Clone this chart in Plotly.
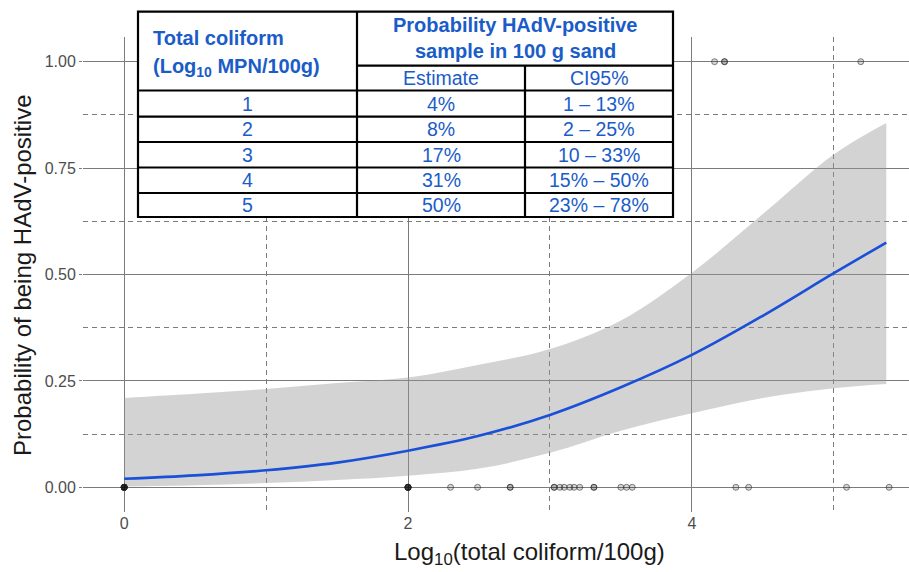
import plotly.graph_objects as go

# ---------------- data ----------------
fit_x = [0, 0.5, 1, 1.5, 2, 2.5, 3, 3.5, 4, 4.5, 5, 5.37]
fit_p = [0.020, 0.028, 0.040, 0.058, 0.086, 0.121, 0.170, 0.235, 0.311, 0.403, 0.503, 0.575]
ci_upper = [0.210, 0.220, 0.231, 0.245, 0.258, 0.288, 0.325, 0.392, 0.504, 0.642, 0.782, 0.856]
ci_lower = [0.002, 0.005, 0.010, 0.017, 0.027, 0.044, 0.081, 0.133, 0.174, 0.210, 0.233, 0.243]

# observed samples (x = log10 total coliform, y = 0/1 HAdV)
obs_neg_x = [0, 0, 0, 0, 0, 0, 0, 0, 0, 0, 2, 2, 2, 2, 2, 2, 2, 2,
             2.30, 2.49, 2.72, 2.72, 3.03, 3.03, 3.07, 3.10, 3.14, 3.17, 3.21,
             3.31, 3.31, 3.50, 3.54, 3.58, 4.31, 4.40, 5.09, 5.39]
obs_pos_x = [4.16, 4.23, 4.23, 5.19]

# table content
tbl_log = ["1", "2", "3", "4", "5"]
tbl_est = ["4%", "8%", "17%", "31%", "50%"]
tbl_ci = ["1 \u2013 13%", "2 \u2013 25%", "10 \u2013 33%", "15% \u2013 50%", "23% \u2013 78%"]

x_ticks = [0, 2, 4]
y_ticks = [0, 0.25, 0.5, 0.75, 1.0]

# ---------------- layout geometry ----------------
L, R, T, B = 83, 909, 37, 512
W, H = 909, 572
def PX(x):
    return (x - L) / (R - L)
def PY(y):
    return (B - y) / (B - T)

FONT = "Liberation Sans, Arial, sans-serif"
BLUE_TXT = "#1a5cc8"
GRID = "#7b7b7b"
DASH = "5px,4px"

fig = go.Figure()

# confidence band
fig.add_trace(go.Scatter(x=fit_x, y=ci_lower, mode="lines", line=dict(width=0, shape="spline"),
                         showlegend=False, hoverinfo="skip"))
fig.add_trace(go.Scatter(x=fit_x, y=ci_upper, mode="lines", line=dict(width=0, shape="spline"),
                         fill="tonexty", fillcolor="rgba(150,150,150,0.42)",
                         showlegend=False, hoverinfo="skip"))
# fitted line
fig.add_trace(go.Scatter(x=fit_x, y=fit_p, mode="lines",
                         line=dict(color="#1a4fd8", width=2.6, shape="spline"),
                         showlegend=False))
# observations
marker = dict(size=6, color="rgba(0,0,0,0.16)", line=dict(color="rgba(40,40,40,0.55)", width=1))
fig.add_trace(go.Scatter(x=obs_neg_x, y=[0] * len(obs_neg_x), mode="markers", marker=marker,
                         showlegend=False))
fig.add_trace(go.Scatter(x=obs_pos_x, y=[1] * len(obs_pos_x), mode="markers", marker=marker,
                         showlegend=False))

fig.update_xaxes(range=[-0.29, 5.53], tickvals=x_ticks, ticktext=[str(v) for v in x_ticks],
                 showgrid=True, gridcolor=GRID, gridwidth=1.4, zeroline=False,
                 showline=False, ticks="",
                 tickfont=dict(family=FONT, size=16, color="#4d4d4d"),
                 minor=dict(dtick=1, tick0=0, showgrid=True, gridcolor=GRID, gridwidth=1.4,
                            griddash=DASH))
fig.update_yaxes(range=[-0.058, 1.058], tickvals=y_ticks, ticktext=["%.2f" % v for v in y_ticks],
                 showgrid=True, gridcolor=GRID, gridwidth=1.4, zeroline=False,
                 showline=False, ticks="outside", ticklen=3, tickcolor=GRID, tickwidth=1.4,
                 tickfont=dict(family=FONT, size=16, color="#4d4d4d"),
                 minor=dict(dtick=0.125, tick0=0, showgrid=True, gridcolor=GRID, gridwidth=1.4,
                            griddash=DASH))

annotations = []
# axis titles
annotations.append(dict(text="Log<sub>10</sub>(total coliform/100g)", x=PX(529), y=PY(553),
                        xref="paper", yref="paper", showarrow=False, xanchor="center", yanchor="middle",
                        font=dict(family=FONT, size=24, color="#1a1a1a")))
annotations.append(dict(text="Probability of being HAdV-positive", x=PX(22), y=PY(275),
                        xref="paper", yref="paper", showarrow=False, textangle=-90,
                        xanchor="center", yanchor="middle",
                        font=dict(family=FONT, size=24, color="#1a1a1a")))

# ---------------- table ----------------
tl, tr, tt, tb = 138, 673, 11.7, 217
c1, c2 = 357, 525
h_sub, h_head = 65.7, 90.5
row_edges = [90.5, 116.7, 142, 167.5, 193, 217]
shapes = []
shapes.append(dict(type="rect", xref="paper", yref="paper", x0=PX(tl), x1=PX(tr), y0=PY(tb), y1=PY(tt),
                   fillcolor="white", line=dict(color="black", width=2.2), layer="above"))
def hline(y, x0, x1):
    shapes.append(dict(type="line", xref="paper", yref="paper", x0=PX(x0), x1=PX(x1), y0=PY(y), y1=PY(y),
                       line=dict(color="black", width=2.2), layer="above"))
def vline(x, y0, y1):
    shapes.append(dict(type="line", xref="paper", yref="paper", x0=PX(x), x1=PX(x), y0=PY(y0), y1=PY(y1),
                       line=dict(color="black", width=2.2), layer="above"))
vline(c1, tt, tb)
vline(c2, h_sub, tb)
hline(h_sub, c1, tr)
for ye in row_edges[:-1]:
    hline(ye, tl, tr)

def txt(s, x, y, size=18, bold=False, anchor="center"):
    annotations.append(dict(text=("<b>%s</b>" % s) if bold else s, x=PX(x), y=PY(y),
                            xref="paper", yref="paper", showarrow=False, xanchor=anchor, yanchor="middle",
                            font=dict(family=FONT, size=size, color=BLUE_TXT)))

txt("Total coliform", 151, 38, 20, True, "left")
txt("(Log<sub>10</sub> MPN/100g)", 151, 68, 20, True, "left")
txt("Probability HAdV-positive", (c1 + tr) / 2, 25, 20, True)
txt("sample in 100 g sand", (c1 + tr) / 2, 51, 20, True)
txt("Estimate", (c1 + c2) / 2, 78.5, 19.5)
txt("CI95%", (c2 + tr) / 2, 78.5, 19.5)
for i in range(5):
    yc = (row_edges[i] + row_edges[i + 1]) / 2
    txt(tbl_log[i], (tl + c1) / 2, yc, 19.5)
    txt(tbl_est[i], (c1 + c2) / 2, yc, 19.5)
    txt(tbl_ci[i], (c2 + tr) / 2, yc, 19.5)

fig.update_layout(width=W, height=H, margin=dict(l=L, r=W - R, t=T, b=H - B),
                  paper_bgcolor="white", plot_bgcolor="white",
                  annotations=annotations, shapes=shapes, showlegend=False)

fig.write_html("out.html")
